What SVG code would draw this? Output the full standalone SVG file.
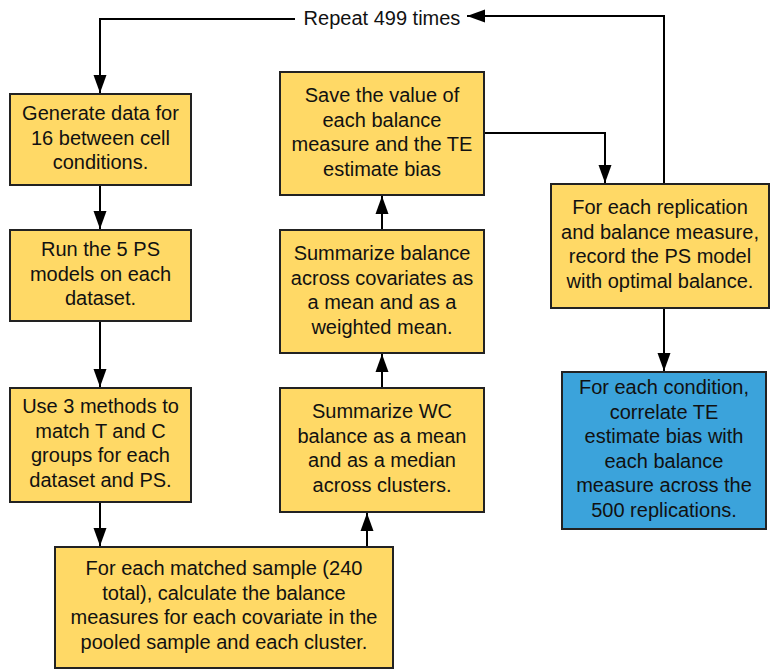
<svg xmlns="http://www.w3.org/2000/svg" width="770" height="669" viewBox="0 0 770 669">
<style>
.box{fill:#FFD966;stroke:#222;stroke-width:2}
.blue{fill:#3BA3DB;stroke:#222;stroke-width:2}
text{font-family:"Liberation Sans",Arial,sans-serif;font-size:20px;fill:#111;text-anchor:middle}
.conn path{fill:none;stroke:#000;stroke-width:2;marker-end:url(#ah)}
</style>
<defs>
<marker id="ah" markerUnits="userSpaceOnUse" markerWidth="18" markerHeight="14" refX="18" refY="7" orient="auto">
<path d="M0,0.5 L18,7 L0,13.5 z" fill="#000"/>
</marker>
</defs>
<rect width="770" height="669" fill="#fff"/>
<g class="conn">
<path d="M295,19 H100 V93"/>
<path d="M664,184 V16 H467"/>
<path d="M100,185 V229"/>
<path d="M100,321 V387"/>
<path d="M100,502 V546"/>
<path d="M367,547 V513"/>
<path d="M382,388 V354"/>
<path d="M382,230 V196"/>
<path d="M484,133 H605 V183"/>
<path d="M664,308 V371"/>
</g>
<text x="382" y="25">Repeat 499 times</text>
<g id="n1"><rect class="box" x="10" y="94" width="181" height="91"/>
<text x="100.5" y="120">Generate data for</text><text x="100.5" y="144.5">16 between cell</text><text x="100.5" y="169">conditions.</text></g>
<g id="n2"><rect class="box" x="10" y="230" width="181" height="91"/>
<text x="100.5" y="256">Run the 5 PS</text><text x="100.5" y="280.5">models on each</text><text x="100.5" y="305">dataset.</text></g>
<g id="n3"><rect class="box" x="10" y="388" width="181" height="114"/>
<text x="100.5" y="413">Use 3 methods to</text><text x="100.5" y="437.5">match T and C</text><text x="100.5" y="462">groups for each</text><text x="100.5" y="486.5">dataset and PS.</text></g>
<g id="n4"><rect class="box" x="55" y="547" width="338" height="121"/>
<text x="224" y="575">For each matched sample (240</text><text x="224" y="599.5">total), calculate the balance</text><text x="224" y="624">measures for each covariate in the</text><text x="224" y="648.5">pooled sample and each cluster.</text></g>
<g id="n5"><rect class="box" x="280" y="388" width="204" height="124"/>
<text x="382" y="418">Summarize WC</text><text x="382" y="442.5">balance as a mean</text><text x="382" y="467">and as a median</text><text x="382" y="491.5">across clusters.</text></g>
<g id="n6"><rect class="box" x="280" y="230" width="204" height="123"/>
<text x="382" y="260">Summarize balance</text><text x="382" y="284.5">across covariates as</text><text x="382" y="309">a mean and as a</text><text x="382" y="333.5">weighted mean.</text></g>
<g id="n7"><rect class="box" x="280" y="72" width="204" height="123"/>
<text x="382" y="102">Save the value of</text><text x="382" y="126.5">each balance</text><text x="382" y="151">measure and the TE</text><text x="382" y="175.5">estimate bias</text></g>
<g id="n8"><rect class="box" x="551" y="184" width="218" height="124"/>
<text x="660" y="214">For each replication</text><text x="660" y="238.5">and balance measure,</text><text x="660" y="263">record the PS model</text><text x="660" y="287.5">with optimal balance.</text></g>
<g id="n9"><rect class="blue" x="562" y="372" width="204" height="157"/>
<text x="664" y="394">For each condition,</text><text x="664" y="418.5">correlate TE</text><text x="664" y="443">estimate bias with</text><text x="664" y="467.5">each balance</text><text x="664" y="492">measure across the</text><text x="664" y="516.5">500 replications.</text></g>
</svg>
